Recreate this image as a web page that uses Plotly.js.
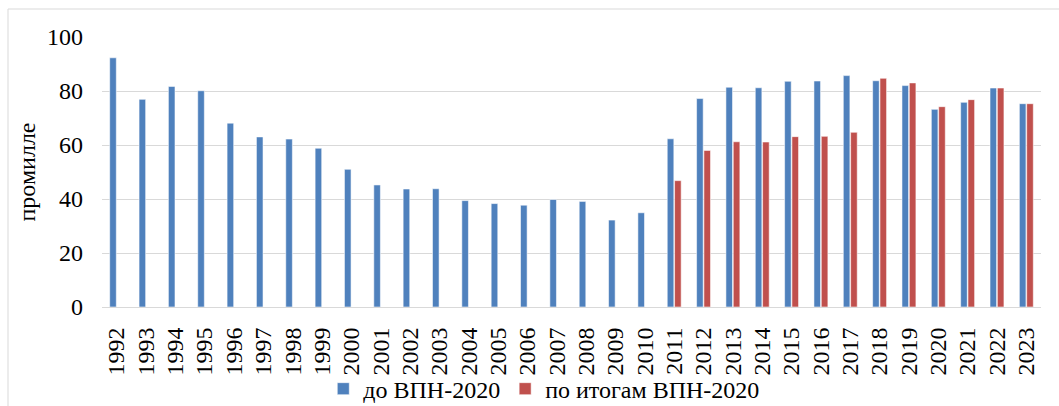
<!DOCTYPE html>
<html>
<head>
<meta charset="utf-8">
<script src="https://cdn.plot.ly/plotly-3.0.1.min.js"></script>
<style>html,body{margin:0;padding:0;background:#fff;}#chart{width:1059px;height:406px;}</style>
</head>
<body>
<div id="chart"></div>
<script>
const years = ["1992","1993","1994","1995","1996","1997","1998","1999","2000","2001","2002","2003","2004","2005","2006","2007","2008","2009","2010","2011","2012","2013","2014","2015","2016","2017","2018","2019","2020","2021","2022","2023"];
const beforeCensus = [92.3,76.9,81.7,80.1,68.1,63.0,62.2,58.8,51.0,45.2,43.7,43.8,39.4,38.3,37.7,39.8,39.1,32.2,34.9,62.3,77.2,81.4,81.2,83.6,83.7,85.7,83.8,82.0,73.2,75.8,81.1,75.3];
const afterCensus = [null,null,null,null,null,null,null,null,null,null,null,null,null,null,null,null,null,null,null,46.8,58.0,61.2,61.1,63.1,63.2,64.7,84.7,83.0,74.2,76.8,81.1,75.3];
const seriesNames = ["до ВПН-2020","по итогам ВПН-2020"];
const yTitle = "промилле";

const font = {family: "Liberation Serif", size: 24, color: "#000"};

const data = [
  {type:"bar", name:seriesNames[0], x:years, y:beforeCensus,
   marker:{color:"#4f81bd", line:{color:"rgba(255,255,255,0.55)", width:1}}, hoverinfo:"x+y"},
  {type:"bar", name:seriesNames[1], x:years, y:afterCensus,
   marker:{color:"#c0504d", line:{color:"rgba(255,255,255,0.55)", width:1}}, hoverinfo:"x+y"}
];

const layout = {
  width:1059, height:406,
  margin:{l:102, r:18, t:37, b:99, autoexpand:false},
  paper_bgcolor:"#fff", plot_bgcolor:"#fff",
  font:font,
  barmode:"group", bargap:0.5, bargroupgap:0.1,
  showlegend:true,
  legend:{orientation:"h", x:0.471, xanchor:"center", y:-0.304, yanchor:"middle", font:font,
          traceorder:"normal", bgcolor:"rgba(0,0,0,0)", borderwidth:0, tracegroupgap:0},
  xaxis:{type:"category", tickangle:-90, showgrid:false, zeroline:false,
         showline:true, linecolor:"#d9d9d9", linewidth:1, ticks:"", ticklabelstandoff:10,
         tickfont:font, automargin:false},
  yaxis:{range:[0,100], dtick:20, tick0:0, showgrid:true, gridcolor:"#d9d9d9", gridwidth:1,
         zeroline:false, showline:false, ticks:"", ticklabelstandoff:18, tickfont:font,
         title:{text:yTitle, font:font, standoff:4}, automargin:false},
  shapes:[{type:"rect", xref:"paper", yref:"paper", x0:-0.1001, x1:1.3, y0:-1, y1:1.1037,
           line:{color:"#d9d9d9", width:1}, fillcolor:"rgba(0,0,0,0)", layer:"below"}]
};

Plotly.newPlot("chart", data, layout, {displayModeBar:false, staticPlot:true});
</script>
</body>
</html>
